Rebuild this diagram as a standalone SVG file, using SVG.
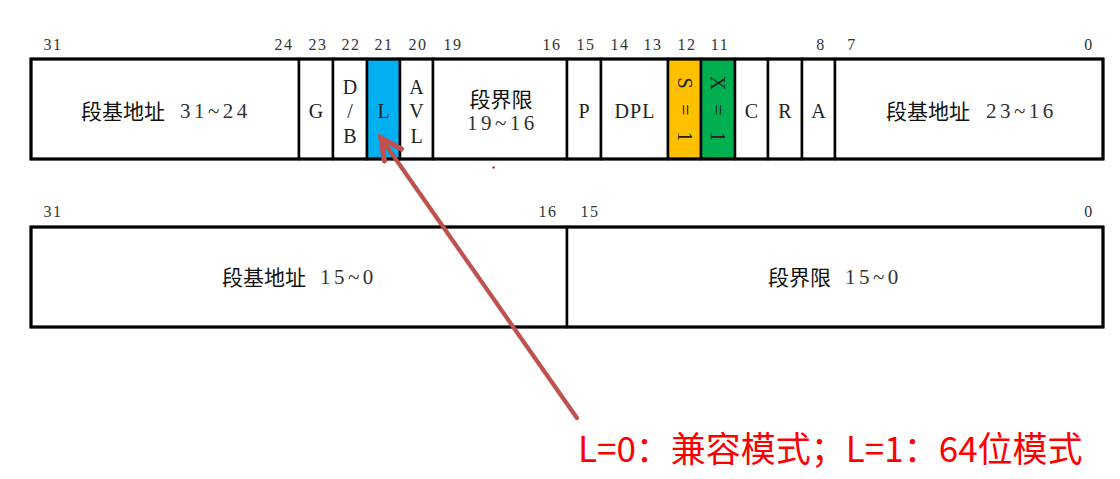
<svg xmlns="http://www.w3.org/2000/svg" width="1120" height="479" viewBox="0 0 1120 479">
<defs>
<style>
.cell{fill:#fff;stroke:#000;stroke-width:2.5}
.outer{fill:none;stroke:#000;stroke-width:3}
.bit{font-family:"Liberation Serif",serif;font-size:16px;fill:#333;text-anchor:middle;dominant-baseline:central;letter-spacing:1.5px}
.lt{font-family:"Liberation Serif",serif;font-size:20px;fill:#222;text-anchor:middle;dominant-baseline:central}
.cn{font-family:"Noto Sans CJK SC",sans-serif;font-size:21px;fill:#111;dominant-baseline:central}
.num{font-family:"Liberation Serif",serif;font-size:21px;fill:#333;dominant-baseline:central;letter-spacing:3.5px}
.cap{font-family:"Noto Sans CJK SC",sans-serif;font-size:35px;fill:#f00}
.arrow{stroke:#C0504D;stroke-width:4;fill:none;stroke-linecap:round;stroke-linejoin:round}
</style>
<marker id="ah" markerUnits="userSpaceOnUse" markerWidth="30" markerHeight="30" viewBox="-22 -12 26 24" refX="0" refY="0" orient="auto">
<path d="M-18,-9 L0,0 L-18,9" fill="none" stroke="#C0504D" stroke-width="4.5" stroke-linecap="round" stroke-linejoin="miter"/>
</marker>
</defs>
<rect width="1120" height="479" fill="#fff"/>

<g id="bits-top">
<text class="bit" x="53" y="44">31</text>
<text class="bit" x="284" y="44">24</text>
<text class="bit" x="318" y="44">23</text>
<text class="bit" x="351" y="44">22</text>
<text class="bit" x="384" y="44">21</text>
<text class="bit" x="418" y="44">20</text>
<text class="bit" x="453" y="44">19</text>
<text class="bit" x="552" y="44">16</text>
<text class="bit" x="586" y="44">15</text>
<text class="bit" x="620" y="44">14</text>
<text class="bit" x="653" y="44">13</text>
<text class="bit" x="687" y="44">12</text>
<text class="bit" x="720" y="44">11</text>
<text class="bit" x="821" y="44">8</text>
<text class="bit" x="852" y="44">7</text>
<text class="bit" x="1089" y="44">0</text>
</g>

<g id="base-31-24">
<rect class="cell" x="31" y="59" width="268" height="100"/>
<text class="cn" x="81" y="110">段基地址</text>
<text class="num" x="180" y="111">31~24</text>
</g>
<g id="G">
<rect class="cell" x="299" y="59" width="34" height="100"/>
<text class="lt" x="316" y="111">G</text>
</g>
<g id="DB">
<rect class="cell" x="333" y="59" width="34" height="100"/>
<text class="lt" x="350" y="87">D</text>
<text class="lt" x="350" y="111">/</text>
<text class="lt" x="350" y="136">B</text>
</g>
<g id="L">
<rect class="cell" x="367" y="59" width="33" height="100" style="fill:#00B0F0"/>
<text class="lt" x="383.5" y="111">L</text>
</g>
<g id="AVL">
<rect class="cell" x="400" y="59" width="33" height="100"/>
<text class="lt" x="416.5" y="87">A</text>
<text class="lt" x="416.5" y="111">V</text>
<text class="lt" x="416.5" y="136">L</text>
</g>
<g id="limit-19-16">
<rect class="cell" x="433" y="59" width="134" height="100"/>
<text class="cn" x="501" y="98" text-anchor="middle">段界限</text>
<text class="num" x="467" y="123">19~16</text>
</g>
<g id="P">
<rect class="cell" x="567" y="59" width="34" height="100"/>
<text class="lt" x="584" y="111">P</text>
</g>
<g id="DPL">
<rect class="cell" x="601" y="59" width="67" height="100"/>
<text class="lt" x="635" y="111" letter-spacing="1">DPL</text>
</g>
<g id="S">
<rect class="cell" x="668" y="59" width="33" height="100" style="fill:#FFC000"/>
<text class="lt" transform="translate(684.5,110) rotate(90)" x="-27 0 26.5" y="0">S=1</text>
</g>
<g id="X">
<rect class="cell" x="701" y="59" width="34" height="100" style="fill:#00B050"/>
<text class="lt" transform="translate(718,110) rotate(90)" x="-27 0 26.5" y="0">X=1</text>
</g>
<g id="C">
<rect class="cell" x="735" y="59" width="33" height="100"/>
<text class="lt" x="751.5" y="111">C</text>
</g>
<g id="R">
<rect class="cell" x="768" y="59" width="34" height="100"/>
<text class="lt" x="785" y="111">R</text>
</g>
<g id="A">
<rect class="cell" x="802" y="59" width="33" height="100"/>
<text class="lt" x="818.5" y="111">A</text>
</g>
<g id="base-23-16">
<rect class="cell" x="835" y="59" width="268" height="100"/>
<text class="cn" x="886" y="110">段基地址</text>
<text class="num" x="986" y="111">23~16</text>
</g>
<rect class="outer" x="31" y="59" width="1072" height="100"/>

<rect x="492.5" y="166.5" width="2" height="2" fill="#B00000"/>

<g id="bits-bottom">
<text class="bit" x="53" y="211">31</text>
<text class="bit" x="548" y="211">16</text>
<text class="bit" x="590" y="211">15</text>
<text class="bit" x="1089" y="211">0</text>
</g>
<g id="base-15-0">
<rect class="cell" x="31" y="227" width="536" height="100"/>
<text class="cn" x="222" y="276">段基地址</text>
<text class="num" x="320" y="277">15~0</text>
</g>
<g id="limit-15-0">
<rect class="cell" x="567" y="227" width="536" height="100"/>
<text class="cn" x="768" y="276">段界限</text>
<text class="num" x="845" y="277">15~0</text>
</g>
<rect class="outer" x="31" y="227" width="1072" height="100"/>

<g id="connectors">
<line x1="578" y1="420" x2="382" y2="140" stroke="#000" stroke-opacity="0.12" stroke-width="5"/>
<line class="arrow" x1="577" y1="418" x2="381" y2="138" marker-end="url(#ah)"/>
</g>

<g id="caption">
<text class="cap" x="578" y="462">L=0：兼容模式；L=1：64位模式</text>
</g>
</svg>
